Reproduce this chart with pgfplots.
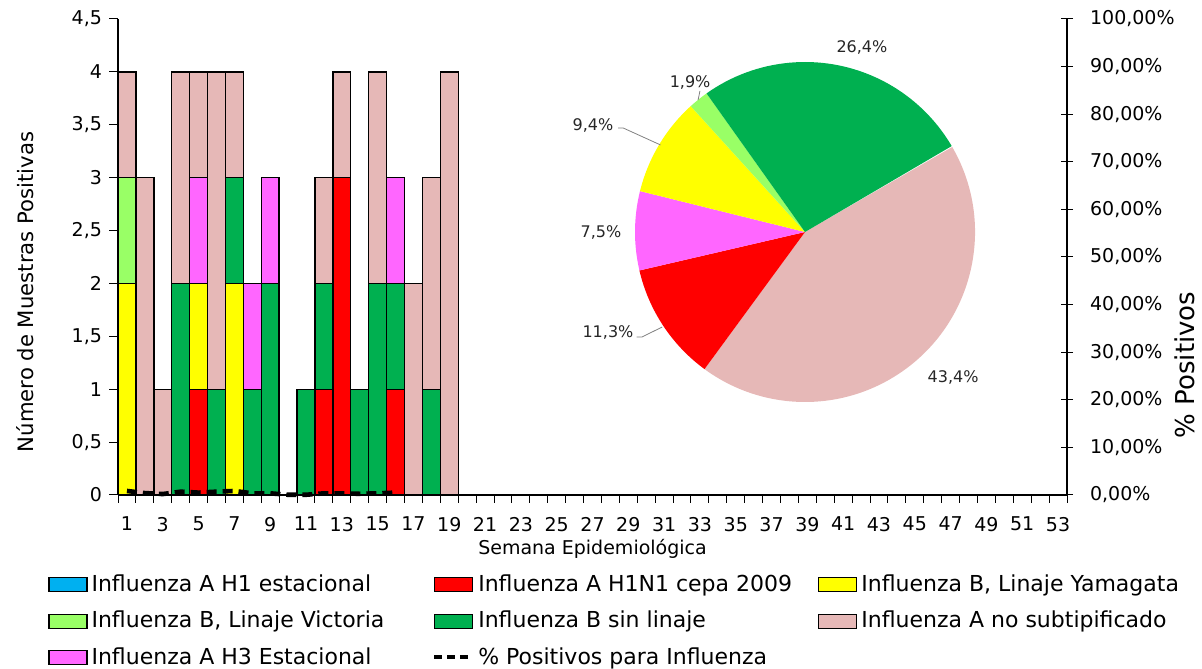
\documentclass[border=0pt]{standalone}
\usepackage{pgfplots}
\pgfplotsset{compat=1.18}
\usepackage{pgfplotstable}
\usepackage{fontspec}
\setmainfont{DejaVu Sans}

\definecolor{cBlue}{HTML}{00B0F0}
\definecolor{cRed}{HTML}{FF0000}
\definecolor{cYellow}{HTML}{FFFF00}
\definecolor{cLGreen}{HTML}{99FF66}
\definecolor{cGreen}{HTML}{00B050}
\definecolor{cMagenta}{HTML}{FF66FF}
\definecolor{cPink}{HTML}{E6B8B7}

\pgfplotstableread{
week blue red yellow lgreen green magenta pink
1  0 0 2 1 0 0 1
2  0 0 0 0 0 0 3
3  0 0 0 0 0 0 1
4  0 0 0 0 2 0 2
5  0 1 1 0 0 1 1
6  0 0 0 0 1 0 3
7  0 0 2 0 1 0 1
8  0 0 0 0 1 1 0
9  0 0 0 0 2 1 0
10 0 0 0 0 0 0 0
11 0 0 0 0 1 0 0
12 0 1 0 0 1 0 1
13 0 3 0 0 0 0 1
14 0 0 0 0 1 0 0
15 0 0 0 0 2 0 2
16 0 1 0 0 1 1 0
17 0 0 0 0 0 0 2
18 0 0 0 0 1 0 2
19 0 0 0 0 0 0 4
}\datatable

\pgfplotstableread{
week pct
1  0.85
2  0.4
3  0.2
4  0.7
5  0.5
6  0.7
7  0.85
8  0.35
9  0.35
10 0.05
11 0.05
12 0.35
13 0.35
14 0.25
15 0.35
16 0.5
}\pcttable

\newcommand{\slice}[3]{\fill[#3] (axis cs:0,0) -- ++(#1:85pt) arc[start angle=#1, delta angle=-3.6*#2, radius=85pt] -- cycle;}

\begin{document}
\begin{tikzpicture}
\path[use as bounding box] (0pt,0pt) rectangle (601pt,334pt);

% main bar axis
\begin{axis}[
  at={(59pt,86.5pt)}, anchor=south west,
  width=474.5pt, height=238pt, scale only axis,
  xmin=0.5, xmax=53.5, ymin=0, ymax=4.5,
  axis x line*=bottom, axis y line*=left,
  axis line style={black, line width=0.6pt},
  ybar stacked, bar width=1,
  xtick={1,3,...,53},
  minor xtick={0.5,1.5,...,53.5},
  ytick={0,0.5,...,4.5},
  tick align=outside,
  major tick length=4.5pt,
  minor tick length=4pt,
  major x tick style={draw=none},
  tick style={black, line width=0.5pt},
  xticklabel style={yshift=-3pt},
  /pgf/number format/use comma,
  /pgf/number format/assume math mode=true,
  tick label style={font=\fontsize{9.5}{11}\selectfont},
  every axis y label/.style={at={(axis description cs:-0.098,0.4265)}, rotate=90, anchor=center},
  every axis x label/.style={at={(axis description cs:0.5,0)}, anchor=center, yshift=-27pt},
  ylabel={Número de Muestras Positivas},
  xlabel={Semana Epidemiológica},
  ylabel style={font=\fontsize{10.6}{12}\selectfont},
  xlabel style={font=\fontsize{9.5}{11}\selectfont},
  legend columns=3,
  legend cell align=left,
  legend style={at={(axis description cs:-0.0738,-0.1587)}, anchor=north west,
    draw=none, fill=none, inner sep=0pt, font=\fontsize{11}{13}\selectfont,
    row sep=4.3pt,
    /tikz/column 2/.style={column sep=22pt},
    /tikz/column 4/.style={column sep=11pt}},
]
\addlegendimage{legend image code/.code={\draw[fill=cBlue, draw=black, line width=0.6pt] (0pt,-3.5pt) rectangle (19pt,3.5pt);}}
\addlegendentry{Influenza A H1 estacional}
\addlegendimage{legend image code/.code={\draw[fill=cRed, draw=black, line width=0.6pt] (0pt,-3.5pt) rectangle (19pt,3.5pt);}}
\addlegendentry{Influenza A H1N1 cepa 2009}
\addlegendimage{legend image code/.code={\draw[fill=cYellow, draw=black, line width=0.6pt] (0pt,-3.5pt) rectangle (19pt,3.5pt);}}
\addlegendentry{Influenza B, Linaje Yamagata}
\addlegendimage{legend image code/.code={\draw[fill=cLGreen, draw=black, line width=0.6pt] (0pt,-3.5pt) rectangle (19pt,3.5pt);}}
\addlegendentry{Influenza B, Linaje Victoria}
\addlegendimage{legend image code/.code={\draw[fill=cGreen, draw=black, line width=0.6pt] (0pt,-3.5pt) rectangle (19pt,3.5pt);}}
\addlegendentry{Influenza B sin linaje}
\addlegendimage{legend image code/.code={\draw[fill=cPink, draw=black, line width=0.6pt] (0pt,-3.5pt) rectangle (19pt,3.5pt);}}
\addlegendentry{Influenza A no subtipificado}
\addlegendimage{legend image code/.code={\draw[fill=cMagenta, draw=black, line width=0.6pt] (0pt,-3.5pt) rectangle (19pt,3.5pt);}}
\addlegendentry{Influenza A H3 Estacional}
\addlegendimage{legend image code/.code={\draw[black, line width=2pt, dash pattern=on 4pt off 2.5pt] (0pt,0pt) -- (19pt,0pt);}}
\addlegendentry{\% Positivos para Influenza}

\addplot[forget plot, fill=cBlue, draw=black, line width=0.7pt] table[x=week, y=blue] {\datatable};
\addplot[forget plot, fill=cRed, draw=black, line width=0.7pt] table[x=week, y=red] {\datatable};
\addplot[forget plot, fill=cYellow, draw=black, line width=0.7pt] table[x=week, y=yellow] {\datatable};
\addplot[forget plot, fill=cLGreen, draw=black, line width=0.7pt] table[x=week, y=lgreen] {\datatable};
\addplot[forget plot, fill=cGreen, draw=black, line width=0.7pt] table[x=week, y=green] {\datatable};
\addplot[forget plot, fill=cMagenta, draw=black, line width=0.7pt] table[x=week, y=magenta] {\datatable};
\addplot[forget plot, fill=cPink, draw=black, line width=0.7pt] table[x=week, y=pink] {\datatable};
\end{axis}

% right axis with percentage line
\begin{axis}[
  at={(59pt,86.5pt)}, anchor=south west,
  width=474.5pt, height=238pt, scale only axis,
  xmin=0.5, xmax=53.5, ymin=0, ymax=100,
  axis y line*=right, axis x line=none,
  axis line style={black, line width=0.6pt},
  clip=false,
  ytick={0,10,...,100},
  tick align=center,
  major tick length=6pt,
  tick style={black, line width=0.5pt},
  yticklabel={\pgfmathprintnumber[fixed,fixed zerofill,precision=2,use comma]{\tick}\%},
  yticklabel style={xshift=5pt},
  /pgf/number format/assume math mode=true,
  tick label style={font=\fontsize{9.5}{11}\selectfont},
  every axis y label/.style={at={(axis description cs:1.1243,0.273)}, rotate=90, anchor=center, inner sep=1pt},
  ylabel={\% Positivos},
  ylabel style={font=\fontsize{13}{15}\selectfont},
]
\addplot[black, line width=2.3pt, dash pattern=on 5pt off 3pt] table[x=week, y=pct] {\pcttable};
\end{axis}

% pie chart
\begin{axis}[
  at={(402.5pt,218pt)}, anchor=center,
  width=170pt, height=170pt, scale only axis,
  xmin=-1, xmax=1, ymin=-1, ymax=1,
  hide axis, clip=false,
]
\slice{30}{43.4}{cPink}
\slice{30-3.6*43.4}{11.3}{cRed}
\slice{30-3.6*54.7}{7.5}{cMagenta}
\slice{30-3.6*62.2}{9.4}{cYellow}
\slice{30-3.6*71.6}{1.9}{cLGreen}
\slice{30-3.6*73.5}{26.4}{cGreen}
\draw[gray, line width=0.4pt] (axis cs:-1.10,0.612) -- (axis cs:-1.07,0.612) -- (axis cs:-0.85,0.512);
\draw[gray, line width=0.4pt] (axis cs:-0.99,-0.618) -- (axis cs:-0.96,-0.618) -- (axis cs:-0.84,-0.559);
\draw[gray, line width=0.4pt] (axis cs:-0.618,0.83) -- (axis cs:-0.629,0.776);
\begin{scope}[every node/.style={font=\fontsize{8}{9}\selectfont, text=black!85}]
\node at (axis cs:0.335,1.088) {26,4\%};
\node at (axis cs:-0.676,0.882) {1,9\%};
\node at (axis cs:-1.247,0.624) {9,4\%};
\node at (axis cs:-1.20,0.0) {7,5\%};
\node at (axis cs:-1.159,-0.594) {11,3\%};
\node at (axis cs:0.871,-0.853) {43,4\%};
\end{scope}
\end{axis}
\end{tikzpicture}
\end{document}
